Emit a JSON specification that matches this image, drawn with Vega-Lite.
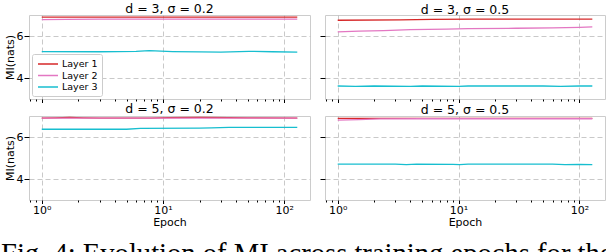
{
  "$schema": "https://vega.github.io/schema/vega-lite/v6.json",
  "padding": {"left": 1, "top": 2, "right": 0, "bottom": 0},
  "background": "white",
  "datasets": {
    "mi": [
      {"panel": "A", "layer": "Layer 1", "epoch": 1, "mi": 6.9},
      {"panel": "A", "layer": "Layer 1", "epoch": 4, "mi": 6.9},
      {"panel": "A", "layer": "Layer 1", "epoch": 16, "mi": 6.9},
      {"panel": "A", "layer": "Layer 1", "epoch": 64, "mi": 6.9},
      {"panel": "A", "layer": "Layer 1", "epoch": 128, "mi": 6.9},
      {"panel": "A", "layer": "Layer 2", "epoch": 1, "mi": 6.78},
      {"panel": "A", "layer": "Layer 2", "epoch": 1.6, "mi": 6.79},
      {"panel": "A", "layer": "Layer 2", "epoch": 3, "mi": 6.8},
      {"panel": "A", "layer": "Layer 2", "epoch": 20, "mi": 6.8},
      {"panel": "A", "layer": "Layer 2", "epoch": 128, "mi": 6.8},
      {"panel": "A", "layer": "Layer 3", "epoch": 1, "mi": 5.26},
      {"panel": "A", "layer": "Layer 3", "epoch": 3, "mi": 5.25},
      {"panel": "A", "layer": "Layer 3", "epoch": 6, "mi": 5.27},
      {"panel": "A", "layer": "Layer 3", "epoch": 7.7, "mi": 5.3},
      {"panel": "A", "layer": "Layer 3", "epoch": 12, "mi": 5.26},
      {"panel": "A", "layer": "Layer 3", "epoch": 20, "mi": 5.24},
      {"panel": "A", "layer": "Layer 3", "epoch": 30, "mi": 5.23},
      {"panel": "A", "layer": "Layer 3", "epoch": 51, "mi": 5.27},
      {"panel": "A", "layer": "Layer 3", "epoch": 80, "mi": 5.25},
      {"panel": "A", "layer": "Layer 3", "epoch": 128, "mi": 5.23},

      {"panel": "B", "layer": "Layer 1", "epoch": 1, "mi": 6.75},
      {"panel": "B", "layer": "Layer 1", "epoch": 3.3, "mi": 6.77},
      {"panel": "B", "layer": "Layer 1", "epoch": 6, "mi": 6.79},
      {"panel": "B", "layer": "Layer 1", "epoch": 13, "mi": 6.8},
      {"panel": "B", "layer": "Layer 1", "epoch": 128, "mi": 6.8},
      {"panel": "B", "layer": "Layer 2", "epoch": 1, "mi": 6.2},
      {"panel": "B", "layer": "Layer 2", "epoch": 1.5, "mi": 6.23},
      {"panel": "B", "layer": "Layer 2", "epoch": 2.4, "mi": 6.26},
      {"panel": "B", "layer": "Layer 2", "epoch": 4, "mi": 6.3},
      {"panel": "B", "layer": "Layer 2", "epoch": 8, "mi": 6.33},
      {"panel": "B", "layer": "Layer 2", "epoch": 12, "mi": 6.35},
      {"panel": "B", "layer": "Layer 2", "epoch": 30, "mi": 6.37},
      {"panel": "B", "layer": "Layer 2", "epoch": 60, "mi": 6.39},
      {"panel": "B", "layer": "Layer 2", "epoch": 100, "mi": 6.41},
      {"panel": "B", "layer": "Layer 2", "epoch": 128, "mi": 6.43},
      {"panel": "B", "layer": "Layer 3", "epoch": 1, "mi": 3.62},
      {"panel": "B", "layer": "Layer 3", "epoch": 1.4, "mi": 3.6},
      {"panel": "B", "layer": "Layer 3", "epoch": 2, "mi": 3.62},
      {"panel": "B", "layer": "Layer 3", "epoch": 4, "mi": 3.6},
      {"panel": "B", "layer": "Layer 3", "epoch": 5, "mi": 3.62},
      {"panel": "B", "layer": "Layer 3", "epoch": 10, "mi": 3.6},
      {"panel": "B", "layer": "Layer 3", "epoch": 12, "mi": 3.62},
      {"panel": "B", "layer": "Layer 3", "epoch": 50, "mi": 3.62},
      {"panel": "B", "layer": "Layer 3", "epoch": 70, "mi": 3.6},
      {"panel": "B", "layer": "Layer 3", "epoch": 100, "mi": 3.62},
      {"panel": "B", "layer": "Layer 3", "epoch": 128, "mi": 3.62},

      {"panel": "C", "layer": "Layer 1", "epoch": 1, "mi": 6.9},
      {"panel": "C", "layer": "Layer 1", "epoch": 1.3, "mi": 6.91},
      {"panel": "C", "layer": "Layer 1", "epoch": 1.7, "mi": 6.93},
      {"panel": "C", "layer": "Layer 1", "epoch": 2.2, "mi": 6.91},
      {"panel": "C", "layer": "Layer 1", "epoch": 3, "mi": 6.9},
      {"panel": "C", "layer": "Layer 1", "epoch": 8, "mi": 6.9},
      {"panel": "C", "layer": "Layer 1", "epoch": 11, "mi": 6.92},
      {"panel": "C", "layer": "Layer 1", "epoch": 20, "mi": 6.93},
      {"panel": "C", "layer": "Layer 1", "epoch": 35, "mi": 6.92},
      {"panel": "C", "layer": "Layer 1", "epoch": 50, "mi": 6.91},
      {"panel": "C", "layer": "Layer 1", "epoch": 128, "mi": 6.9},
      {"panel": "C", "layer": "Layer 2", "epoch": 1, "mi": 6.9},
      {"panel": "C", "layer": "Layer 2", "epoch": 10, "mi": 6.9},
      {"panel": "C", "layer": "Layer 2", "epoch": 128, "mi": 6.9},
      {"panel": "C", "layer": "Layer 3", "epoch": 1, "mi": 6.37},
      {"panel": "C", "layer": "Layer 3", "epoch": 5, "mi": 6.37},
      {"panel": "C", "layer": "Layer 3", "epoch": 6.5, "mi": 6.41},
      {"panel": "C", "layer": "Layer 3", "epoch": 20, "mi": 6.42},
      {"panel": "C", "layer": "Layer 3", "epoch": 25, "mi": 6.43},
      {"panel": "C", "layer": "Layer 3", "epoch": 35, "mi": 6.46},
      {"panel": "C", "layer": "Layer 3", "epoch": 128, "mi": 6.46},

      {"panel": "D", "layer": "Layer 1", "epoch": 1, "mi": 6.89},
      {"panel": "D", "layer": "Layer 1", "epoch": 10, "mi": 6.89},
      {"panel": "D", "layer": "Layer 1", "epoch": 128, "mi": 6.89},
      {"panel": "D", "layer": "Layer 2", "epoch": 1, "mi": 6.8},
      {"panel": "D", "layer": "Layer 2", "epoch": 1.5, "mi": 6.83},
      {"panel": "D", "layer": "Layer 2", "epoch": 2.25, "mi": 6.86},
      {"panel": "D", "layer": "Layer 2", "epoch": 5, "mi": 6.87},
      {"panel": "D", "layer": "Layer 2", "epoch": 128, "mi": 6.87},
      {"panel": "D", "layer": "Layer 3", "epoch": 1, "mi": 4.71},
      {"panel": "D", "layer": "Layer 3", "epoch": 3, "mi": 4.71},
      {"panel": "D", "layer": "Layer 3", "epoch": 3.7, "mi": 4.68},
      {"panel": "D", "layer": "Layer 3", "epoch": 4.5, "mi": 4.71},
      {"panel": "D", "layer": "Layer 3", "epoch": 9, "mi": 4.7},
      {"panel": "D", "layer": "Layer 3", "epoch": 10.2, "mi": 4.68},
      {"panel": "D", "layer": "Layer 3", "epoch": 12, "mi": 4.71},
      {"panel": "D", "layer": "Layer 3", "epoch": 60, "mi": 4.71},
      {"panel": "D", "layer": "Layer 3", "epoch": 76, "mi": 4.68},
      {"panel": "D", "layer": "Layer 3", "epoch": 100, "mi": 4.69},
      {"panel": "D", "layer": "Layer 3", "epoch": 128, "mi": 4.68}
    ]
  },
  "title": {
    "text": "Fig. 4: Evolution of MI across training epochs for the",
    "orient": "bottom",
    "anchor": "start",
    "frame": "group",
    "dx": -28,
    "offset": 12,
    "font": "Liberation Serif",
    "fontSize": 28.6,
    "fontWeight": "normal",
    "color": "#000000"
  },
  "columns": 2,
  "spacing": {"row": 17, "column": 15},
  "bounds": "flush",
  "resolve": {"scale": {"color": "independent"}, "legend": {"color": "independent"}},
  "concat": [
    {
      "width": 281, "height": 84,
      "title": {"text": "d = 3, σ = 0.2"},
      "data": {"name": "mi"},
      "transform": [{"filter": "datum.panel == 'A'"}],
      "mark": {"type": "line", "strokeWidth": 1.3},
      "encoding": {
        "x": {"field": "epoch", "type": "quantitative",
          "scale": {"type": "log", "domain": [0.785, 163], "nice": false},
          "axis": {"title": null, "labels": false,
            "values": [0.8, 0.9, 1, 2, 3, 4, 5, 6, 7, 8, 9, 10, 20, 30, 40, 50, 60, 70, 80, 90, 100],
            "tickSize": {"condition": {"test": "datum.value == 1 || datum.value == 10 || datum.value == 100", "value": 3.5}, "value": 2},
            "gridOpacity": {"condition": {"test": "datum.value == 1 || datum.value == 10 || datum.value == 100", "value": 1}, "value": 0}}},
        "y": {"field": "mi", "type": "quantitative",
          "scale": {"domain": [3, 7], "nice": false, "zero": false},
          "axis": {"title": "MI(nats)", "values": [4, 6], "titlePadding": 1}},
        "color": {"field": "layer", "type": "nominal",
          "scale": {"domain": ["Layer 1", "Layer 2", "Layer 3"], "range": ["#d62728", "#e377c2", "#17becf"]},
          "legend": {"orient": "bottom-left", "offset": 3, "title": null, "symbolType": "M-2,0H2",
            "symbolStrokeWidth": 1.5, "symbolSize": 100, "symbolOffset": 6, "labelFont": "DejaVu Sans", "labelFontSize": 9.5,
            "labelColor": "#000000", "strokeColor": "#cccccc", "fillColor": "white", "padding": 4,
            "cornerRadius": 2, "rowPadding": 0.5, "labelOffset": 8}}
      }
    },
    {
      "width": 280, "height": 84,
      "title": {"text": "d = 3, σ = 0.5"},
      "data": {"name": "mi"},
      "transform": [{"filter": "datum.panel == 'B'"}],
      "mark": {"type": "line", "strokeWidth": 1.3},
      "encoding": {
        "x": {"field": "epoch", "type": "quantitative",
          "scale": {"type": "log", "domain": [0.785, 163], "nice": false},
          "axis": {"title": null, "labels": false,
            "values": [0.8, 0.9, 1, 2, 3, 4, 5, 6, 7, 8, 9, 10, 20, 30, 40, 50, 60, 70, 80, 90, 100],
            "tickSize": {"condition": {"test": "datum.value == 1 || datum.value == 10 || datum.value == 100", "value": 3.5}, "value": 2},
            "gridOpacity": {"condition": {"test": "datum.value == 1 || datum.value == 10 || datum.value == 100", "value": 1}, "value": 0}}},
        "y": {"field": "mi", "type": "quantitative",
          "scale": {"domain": [3, 7], "nice": false, "zero": false},
          "axis": {"title": null, "labels": false, "values": [4, 6]}},
        "color": {"field": "layer", "type": "nominal",
          "scale": {"domain": ["Layer 1", "Layer 2", "Layer 3"], "range": ["#d62728", "#e377c2", "#17becf"]},
          "legend": null}
      }
    },
    {
      "width": 281, "height": 84,
      "title": {"text": "d = 5, σ = 0.2"},
      "data": {"name": "mi"},
      "transform": [{"filter": "datum.panel == 'C'"}],
      "mark": {"type": "line", "strokeWidth": 1.3},
      "encoding": {
        "x": {"field": "epoch", "type": "quantitative",
          "scale": {"type": "log", "domain": [0.785, 163], "nice": false},
          "axis": {"title": "Epoch", "titlePadding": 1,
            "values": [0.8, 0.9, 1, 2, 3, 4, 5, 6, 7, 8, 9, 10, 20, 30, 40, 50, 60, 70, 80, 90, 100],
            "labelExpr": "datum.value == 1 ? '10⁰' : datum.value == 10 ? '10¹' : datum.value == 100 ? '10²' : ''",
            "tickSize": {"condition": {"test": "datum.value == 1 || datum.value == 10 || datum.value == 100", "value": 3.5}, "value": 2},
            "gridOpacity": {"condition": {"test": "datum.value == 1 || datum.value == 10 || datum.value == 100", "value": 1}, "value": 0}}},
        "y": {"field": "mi", "type": "quantitative",
          "scale": {"domain": [3, 7], "nice": false, "zero": false},
          "axis": {"title": "MI(nats)", "values": [4, 6], "titlePadding": 1}},
        "color": {"field": "layer", "type": "nominal",
          "scale": {"domain": ["Layer 1", "Layer 2", "Layer 3"], "range": ["#d62728", "#e377c2", "#17becf"]},
          "legend": null}
      }
    },
    {
      "width": 280, "height": 84,
      "title": {"text": "d = 5, σ = 0.5"},
      "data": {"name": "mi"},
      "transform": [{"filter": "datum.panel == 'D'"}],
      "mark": {"type": "line", "strokeWidth": 1.3},
      "encoding": {
        "x": {"field": "epoch", "type": "quantitative",
          "scale": {"type": "log", "domain": [0.785, 163], "nice": false},
          "axis": {"title": "Epoch", "titlePadding": 1,
            "values": [0.8, 0.9, 1, 2, 3, 4, 5, 6, 7, 8, 9, 10, 20, 30, 40, 50, 60, 70, 80, 90, 100],
            "labelExpr": "datum.value == 1 ? '10⁰' : datum.value == 10 ? '10¹' : datum.value == 100 ? '10²' : ''",
            "tickSize": {"condition": {"test": "datum.value == 1 || datum.value == 10 || datum.value == 100", "value": 3.5}, "value": 2},
            "gridOpacity": {"condition": {"test": "datum.value == 1 || datum.value == 10 || datum.value == 100", "value": 1}, "value": 0}}},
        "y": {"field": "mi", "type": "quantitative",
          "scale": {"domain": [3, 7], "nice": false, "zero": false},
          "axis": {"title": null, "labels": false, "values": [4, 6]}},
        "color": {"field": "layer", "type": "nominal",
          "scale": {"domain": ["Layer 1", "Layer 2", "Layer 3"], "range": ["#d62728", "#e377c2", "#17becf"]},
          "legend": null}
      }
    }
  ],
  "config": {
    "view": {"stroke": "#cccccc"},
    "axis": {
      "domain": false,
      "tickColor": "#000000",
      "labelColor": "#000000",
      "labelFont": "DejaVu Sans",
      "labelFontSize": 11,
      "labelPadding": 1,
      "titleFont": "DejaVu Sans",
      "titleFontSize": 11,
      "titleFontWeight": "normal",
      "titleColor": "#000000",
      "gridColor": "#bbbbbb",
      "gridDash": [5, 3],
      "gridWidth": 0.8,
      "labelOverlap": false
    },
    "title": {"font": "DejaVu Sans", "fontSize": 12.5, "fontWeight": "normal", "color": "#000000", "offset": -1, "baseline": "alphabetic"}
  }
}
